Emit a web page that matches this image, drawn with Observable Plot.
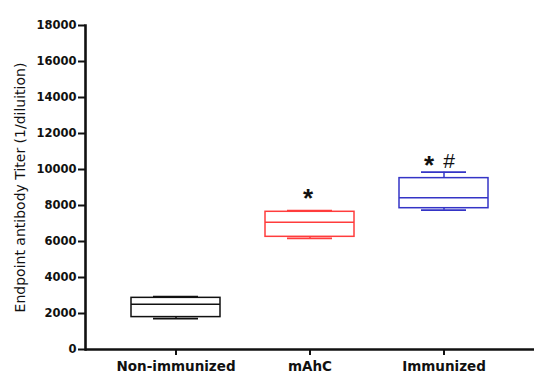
<!DOCTYPE html>
<html>
<head>
<meta charset="utf-8">
<script src="https://cdn.jsdelivr.net/npm/d3@7"></script>
<script src="https://cdn.jsdelivr.net/npm/@observablehq/plot@0.6"></script>
<style>
  html, body { margin: 0; padding: 0; background: #fff; }
  #chart svg { display: block; }
</style>
</head>
<body>
<div id="chart"></div>
<script>
// ---- data ----
const groups  = ["Non-immunized", "mAhC", "Immunized"];
const mins    = [1720, 6170, 7740];
const q1s     = [1800, 6260, 7850];
const medians = [2520, 7070, 8430];
const q3s     = [2870, 7650, 9520];
const maxs    = [2930, 7710, 9850];
const colors  = ["#111111", "#ff3c3c", "#3434c6"];
const yTicks  = [0, 2000, 4000, 6000, 8000, 10000, 12000, 14000, 16000, 18000];
const yTitle  = "Endpoint antibody Titer (1/diluition)";
const starGroups = ["mAhC", "Immunized"];
const starValues = [8600, 10450];
const hashGroups = ["Immunized"];
const hashValues = [10450];

const data = groups.map((g, i) => ({
  group: g, min: mins[i], q1: q1s[i], median: medians[i], q3: q3s[i], max: maxs[i], color: colors[i]
}));
const stars = starGroups.map((g, i) => ({group: g, value: starValues[i]}));
const hashes = hashGroups.map((g, i) => ({group: g, value: hashValues[i]}));

const W = 550, H = 386;
const pad = 0.338;

const plot = Plot.plot({
  width: W,
  height: H,
  marginLeft: 85,
  marginRight: 16,
  marginTop: 25,
  marginBottom: 37,
  style: {fontFamily: "DejaVu Sans", background: "#fff", overflow: "visible", color: "#111"},
  x: {domain: groups, range: [107.25, 510.75], paddingInner: pad, paddingOuter: pad / 2, label: null},
  y: {domain: [0, 18000], label: null},
  marks: [
    // whiskers
    Plot.ruleX(data, {x: "group", y1: "q3", y2: "max", stroke: "color", strokeWidth: 1.5}),
    Plot.ruleX(data, {x: "group", y1: "min", y2: "q1", stroke: "color", strokeWidth: 1.5}),
    // caps
    Plot.tickY(data, {x: "group", y: "max", stroke: "color", strokeWidth: 1.8, insetLeft: 22, insetRight: 22}),
    Plot.tickY(data, {x: "group", y: "min", stroke: "color", strokeWidth: 1.8, insetLeft: 22, insetRight: 22}),
    // boxes
    Plot.barY(data, {x: "group", y1: "q1", y2: "q3", fill: "white", stroke: "color", strokeWidth: 1.5}),
    Plot.tickY(data, {x: "group", y: "median", stroke: "color", strokeWidth: 1.5}),
    // annotations
    Plot.text(stars.filter(d => d.group === "mAhC"), {x: "group", y: "value", text: () => "*", dx: -2, dy: 4, fontSize: 26, fontFamily: "Liberation Sans", fontWeight: "bold", fill: "#111"}),
    Plot.text(stars.filter(d => d.group === "Immunized"), {x: "group", y: "value", text: () => "*", dx: -15, dy: 4, fontSize: 26, fontFamily: "Liberation Sans", fontWeight: "bold", fill: "#111"}),
    Plot.text(hashes, {x: "group", y: "value", text: () => "#", dx: 5, dy: 0, fontSize: 21, fontFamily: "Liberation Sans", fill: "#111"}),
    // axes
    Plot.axisY({ticks: yTicks, tickSize: 7, tickPadding: 2, tickFormat: d => String(d), fontSize: 11.5, fontWeight: "bold", label: null, strokeWidth: 2}),
    Plot.axisX({tickSize: 6, tickPadding: 6, fontSize: 13.5, fontWeight: "bold", label: null, strokeWidth: 2}),
    Plot.frame({anchor: "left", strokeWidth: 2.6}),
    Plot.ruleY([0], {strokeWidth: 2.6}),
    Plot.text([yTitle], {frameAnchor: "left", rotate: -90, dx: -65, textAnchor: "middle", fontSize: 14, fill: "#111"})
  ]
});

document.getElementById("chart").appendChild(plot);
</script>
</body>
</html>
